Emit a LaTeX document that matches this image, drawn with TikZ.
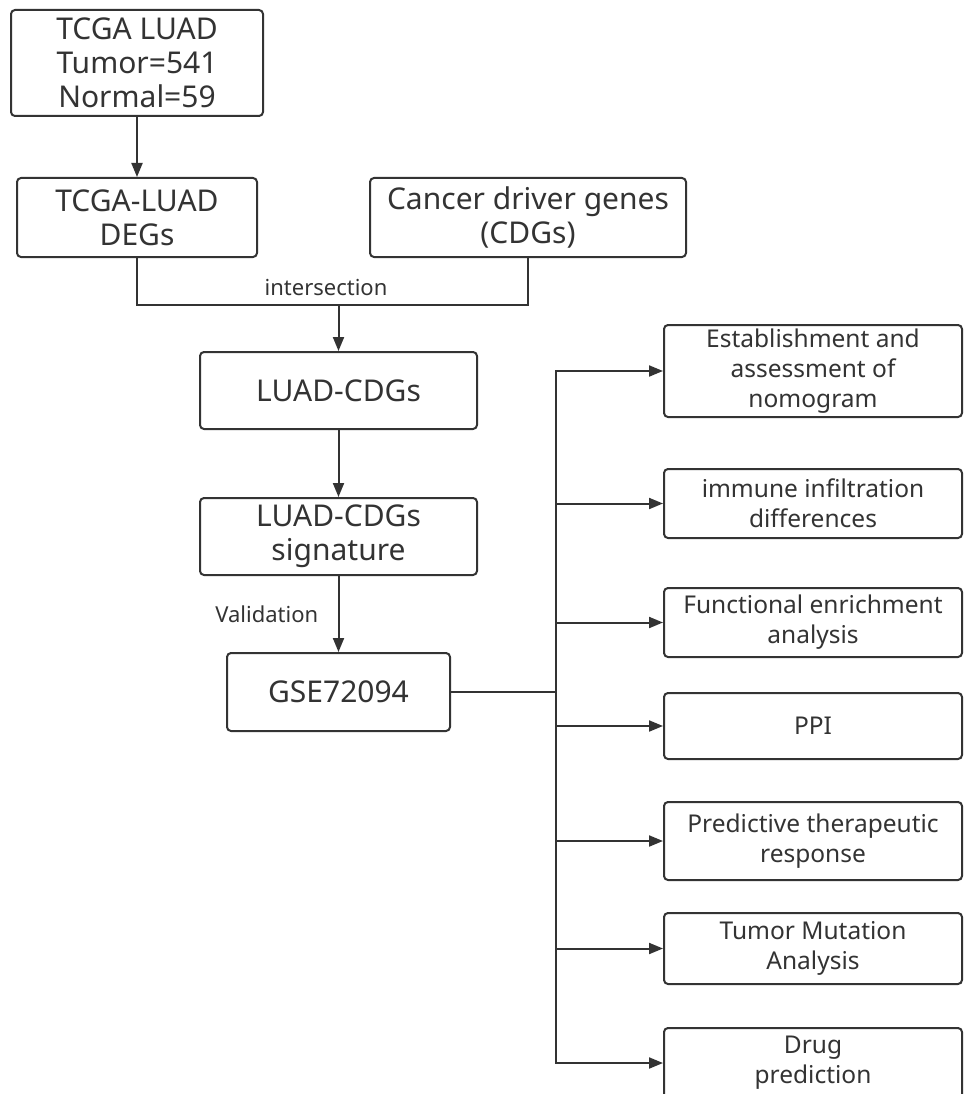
\documentclass[tikz,border=0pt]{standalone}
\usepackage{fontspec}
\setmainfont{Noto Sans}
\usetikzlibrary{arrows.meta}
\definecolor{linegray}{RGB}{51,51,51}

\begin{document}
\begin{tikzpicture}[
    x=1pt, y=-1pt,
    every node/.style={text=linegray},
    box/.style={draw=linegray, line width=2pt, rounded corners=4pt, align=center, inner sep=0pt},
    bigbox/.style={box, font=\fontsize{30}{34}\selectfont},
    sidebox/.style={box, minimum width=298pt, font=\fontsize{24.5}{30}\selectfont},
    conn/.style={draw=linegray, line width=2pt},
    lbl/.style={font=\fontsize{22}{26}\selectfont},
    >={Triangle[length=14pt,width=11pt]}
]
\useasboundingbox (0,0) rectangle (963,1094);

% left column
\node[bigbox, minimum width=252pt, minimum height=106pt] (tcga) at (137,63) {TCGA LUAD\\Tumor=541\\Normal=59};
\node[bigbox, minimum width=240pt, minimum height=79pt] (degs) at (137,217.5) {TCGA-LUAD\\DEGs};
\node[bigbox, minimum width=316pt, minimum height=79pt] (cdg) at (528,217.5) {Cancer driver genes\\(CDGs)};
\node[bigbox, minimum width=277pt, minimum height=77pt] (luad) at (338.5,390.5) {LUAD-CDGs};
\node[bigbox, minimum width=277pt, minimum height=77pt] (sig) at (338.5,536.5) {LUAD-CDGs\\signature};
\node[bigbox, minimum width=223pt, minimum height=78pt] (gse) at (338.5,692) {GSE72094};

% right column
\node[sidebox, minimum height=92pt] (nomo) at (813,371) {Establishment and\\assessment of\\nomogram};
\node[sidebox, minimum height=69pt] (immune) at (813,503.5) {immune infiltration\\differences};
\node[sidebox, minimum height=69pt] (func) at (813,622.5) {Functional enrichment\\analysis};
\node[sidebox, minimum height=66pt] (ppi) at (813,726) {PPI};
\node[sidebox, minimum height=78pt] (pred) at (813,841) {Predictive therapeutic\\response};
\node[sidebox, minimum height=71pt] (tmb) at (813,948.5) {Tumor Mutation\\Analysis};
\node[sidebox, minimum height=70pt] (drug) at (813,1063) {Drug\\prediction};

\coordinate (join) at (338.5,305);
\coordinate (bus) at (556,692);

% connectors
\draw[conn,->] (tcga) -- (degs);
\draw[conn] (degs.south) |- (join) -| (cdg.south);
\node[lbl] (inter) at (326,288) {intersection};
\draw[conn,->] (join) -- (luad);
\draw[conn,->] (luad) -- (sig);
\draw[conn,->] (sig) -- node[lbl, left=16pt] (valid) {Validation} (gse);
\draw[conn] (gse.east) -- (bus);
\foreach \t in {nomo,immune,func,ppi,pred,tmb,drug}
    \draw[conn,->] (bus) |- (\t.west);
\end{tikzpicture}
\end{document}
